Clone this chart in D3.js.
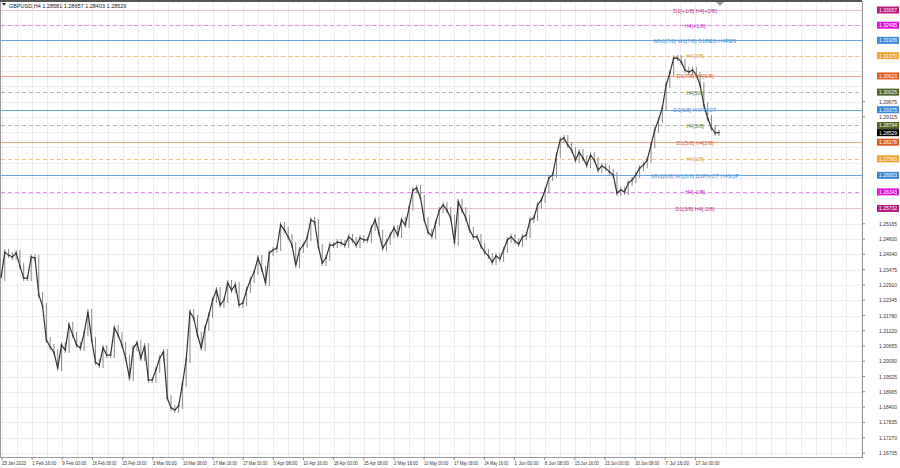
<!DOCTYPE html>
<html>
<head>
<meta charset="utf-8">
<script src="https://cdn.jsdelivr.net/npm/d3@7"></script>
<style>
  body { margin: 0; background: #fff; }
  svg { font-family: "Liberation Sans", sans-serif; }
</style>
</head>
<body>
<svg id="chart" width="900" height="468"></svg>
<script>
// GBPUSD H4 closes (oldest first)
const closes = [
  1.2316, 1.2412, 1.2401, 1.2394, 1.2409, 1.2361, 1.2316, 1.2316, 1.2394, 1.2390,
  1.2254, 1.2213, 1.2088, 1.2062, 1.2043, 1.1984, 1.2069, 1.2051, 1.2143, 1.2106,
  1.2069, 1.2058, 1.2113, 1.2191, 1.2088, 1.2006, 1.1995, 1.2058, 1.2032, 1.2032,
  1.2132, 1.2106, 1.2069, 1.2021, 1.1947, 1.2058, 1.2077, 1.2021, 1.2065, 1.1940,
  1.1940, 1.1977, 1.2021, 1.2043, 1.1874, 1.1837, 1.1829, 1.1844, 1.1925, 1.2014,
  1.2191, 1.2169, 1.2106, 1.2058, 1.2132, 1.2180, 1.2235, 1.2272, 1.2217, 1.2235,
  1.2298, 1.2272, 1.2291, 1.2217, 1.2224, 1.2272, 1.2309, 1.2339, 1.2390, 1.2350,
  1.2298, 1.2409, 1.2420, 1.2427, 1.2512, 1.2494, 1.2468, 1.2438, 1.2364, 1.2420,
  1.2438, 1.2464, 1.2531, 1.2523, 1.2431, 1.2372, 1.2390, 1.2438, 1.2438, 1.2449,
  1.2446, 1.2438, 1.2468, 1.2457, 1.2438, 1.2464, 1.2457, 1.2457, 1.2501, 1.2531,
  1.2483, 1.2427, 1.2449, 1.2475, 1.2501, 1.2475, 1.2531, 1.2512, 1.2575, 1.2641,
  1.2649, 1.2612, 1.2531, 1.2486, 1.2471, 1.2519, 1.2567, 1.2586, 1.2567, 1.2538,
  1.2446, 1.2597, 1.2567, 1.2538, 1.2494, 1.2468, 1.2468, 1.2435, 1.2412, 1.2398,
  1.2375, 1.2398, 1.2387, 1.2420, 1.2457, 1.2468, 1.2453, 1.2442, 1.2468, 1.2475,
  1.2531, 1.2538, 1.2586, 1.2604, 1.2641, 1.2686, 1.2697, 1.2770, 1.2826, 1.2833,
  1.2807, 1.2789, 1.2752, 1.2781, 1.2759, 1.2733, 1.2770, 1.2752, 1.2715, 1.2730,
  1.2722, 1.2708, 1.2697, 1.2630, 1.2641, 1.2634, 1.2667, 1.2678, 1.2697, 1.2722,
  1.2733, 1.2752, 1.2807, 1.2863, 1.2900, 1.2944, 1.3029, 1.3073, 1.3128, 1.3128,
  1.3114, 1.3084, 1.3077, 1.3084, 1.3066, 1.3029, 1.2955, 1.2907, 1.2870, 1.2852,
  1.2853
];

const timeLabels = ["25 Jan 2023", "1 Feb 16:00", "9 Feb 00:00", "16 Feb 08:00", "23 Feb 16:00",
  "3 Mar 00:00", "10 Mar 08:00", "17 Mar 16:00", "27 Mar 00:00", "3 Apr 08:00", "10 Apr 16:00",
  "18 Apr 00:00", "25 Apr 08:00", "2 May 16:00", "10 May 00:00", "17 May 08:00", "24 May 16:00",
  "1 Jun 00:00", "8 Jun 08:00", "15 Jun 16:00", "23 Jun 00:00", "30 Jun 08:00", "7 Jul 16:00",
  "17 Jul 00:00"];

const priceTicks = [1.16705, 1.17270, 1.17835, 1.18400, 1.18965, 1.19525, 1.20090, 1.20655,
  1.21220, 1.21780, 1.22345, 1.22910, 1.23475, 1.24040, 1.24600, 1.25165, 1.25730, 1.26295,
  1.26855, 1.27420, 1.27985, 1.28550, 1.29115, 1.29675, 1.30240, 1.30805, 1.31370, 1.31935,
  1.32500, 1.33060];

// Murrey-type levels: value, label, kind
const levelValues = [1.33057, 1.32495, 1.31936, 1.31370, 1.30623, 1.30025, 1.29375, 1.28794, 1.28178, 1.27563, 1.26953, 1.26343, 1.25732];
const levelNames = ["D1[+1/8] H4[+2/8]", "H4[+1/8]", "MN1[7/8] W1[7/8] D1RES H4RES", "H4[7/8]",
  "D1[7/8] H4[6/8]", "H4[5/8]", "D1[6/8] H4PIVOT", "H4[3/8]", "D1[5/8] H4[2/8]", "H4[1/8]",
  "MN1[6/8] W1[6/8] D1PIVOT H4SUP", "H4[-1/8]", "D1[3/8] H4[-2/8]"];
const levelKinds = ["purple", "magenta", "blue", "orange", "red", "olive", "blue", "olive", "red", "orange", "blue", "magenta", "purple"];
const lastPrice = 1.28529;

const styles = {
  purple:  { line: "#e6bfd9", box: "#b8187f", text: "#b0307f", dash: null },
  magenta: { line: "#ee88ee", box: "#e010e0", text: "#d020d0", dash: "4,3" },
  blue:    { line: "#6aa6e0", box: "#3a86d8", text: "#4a90d0", dash: null },
  orange:  { line: "#f2c27e", box: "#eea030", text: "#e0a040", dash: "4,3" },
  red:     { line: "#f0a580", box: "#e05a20", text: "#d06030", dash: null },
  olive:   { line: "#b8b8a8", box: "#4f6228", text: "#6b7a30", dash: "4,3" }
};

const svg = d3.select("#chart");
const plotRight = 862;

const y = d3.scaleLinear().domain([1.16705, 1.33057]).range([453, 10]);
const x = d3.scaleLinear().domain([0, closes.length - 1]).range([1, 719]);
const xt = d3.scalePoint().domain(timeLabels).range([2, 2 + 23 * 30.15]);

// grid
const grid = svg.append("g").attr("stroke", "#ececf2").attr("stroke-width", 1);
priceTicks.forEach(v => {
  grid.append("line").attr("x1", 1).attr("x2", plotRight)
    .attr("y1", Math.round(y(v)) + 0.5).attr("y2", Math.round(y(v)) + 0.5);
});
for (let gx = 2; gx < plotRight; gx += 15.075) {
  grid.append("line").attr("x1", Math.round(gx) + 0.5).attr("x2", Math.round(gx) + 0.5)
    .attr("y1", 3).attr("y2", 457);
}

// frame
svg.append("rect").attr("x", 0.5).attr("y", 1.5).attr("width", plotRight).attr("height", 456)
  .attr("fill", "none").attr("stroke", "#9a9a9a");
svg.append("line").attr("x1", 0).attr("x2", plotRight).attr("y1", 1).attr("y2", 1)
  .attr("stroke", "#555").attr("stroke-width", 2);
svg.append("path").attr("d", "M716,2 L724,2 L720,6 Z").attr("fill", "#999");

// levels
const lv = svg.append("g");
levelValues.forEach((v, i) => {
  const s = styles[levelKinds[i]];
  const yy = Math.round(y(v)) + 0.5;
  lv.append("line").attr("x1", 1).attr("x2", plotRight).attr("y1", yy).attr("y2", yy)
    .attr("stroke", s.line).attr("stroke-width", 1)
    .attr("stroke-dasharray", s.dash);
});

// candles (open = previous close)
const bars = svg.append("g");
closes.forEach((c, i) => {
  if (i === 0) return;
  const o = closes[i - 1];
  const hi = Math.max(o, c), lo = Math.min(o, c);
  bars.append("line").attr("x1", x(i)).attr("x2", x(i))
    .attr("y1", y(hi) - 3).attr("y2", y(lo) + 3)
    .attr("stroke", "#8a8a8a").attr("stroke-width", 1);
  bars.append("line").attr("x1", x(i) - 1).attr("x2", x(i) + 1)
    .attr("y1", y(c)).attr("y2", y(c))
    .attr("stroke", "#555").attr("stroke-width", 1);
});
svg.append("path").datum(closes)
  .attr("d", d3.line().x((d, i) => x(i)).y(d => y(d)))
  .attr("fill", "none").attr("stroke", "#333").attr("stroke-width", 1.2);

// level labels
levelValues.forEach((v, i) => {
  const s = styles[levelKinds[i]];
  svg.append("text").attr("x", 695).attr("y", y(v) + 2.5)
    .attr("text-anchor", "middle").attr("font-size", 5.5).attr("fill", s.text)
    .text(levelNames[i]);
});

// price axis
const boxYs = levelValues.map(v => y(v)).concat([y(lastPrice)]);
const ax = svg.append("g").attr("font-size", 5).attr("fill", "#333");
priceTicks.forEach(v => {
  const yy = y(v);
  if (boxYs.some(b => Math.abs(b - yy) < 6)) return;
  ax.append("line").attr("x1", plotRight).attr("x2", plotRight + 3)
    .attr("y1", yy).attr("y2", yy).attr("stroke", "#888");
  ax.append("text").attr("x", 879).attr("y", yy + 2).attr("textLength", 18)
    .attr("lengthAdjust", "spacingAndGlyphs").text(v.toFixed(5));
});
const boxes = levelValues.map((v, i) => [v, styles[levelKinds[i]].box]).concat([[lastPrice, "#000"]]);
boxes.forEach(([v, col]) => {
  const yy = y(v);
  svg.append("rect").attr("x", 877).attr("y", yy - 3.5).attr("width", 22).attr("height", 7).attr("fill", col);
  svg.append("text").attr("x", 879).attr("y", yy + 2).attr("font-size", 5).attr("fill", "#fff")
    .attr("textLength", 18).attr("lengthAdjust", "spacingAndGlyphs")
    .text(v.toFixed(5));
});

// time axis
const ta = svg.append("g").attr("font-size", 5).attr("fill", "#333");
timeLabels.forEach(t => {
  ta.append("line").attr("x1", xt(t)).attr("x2", xt(t)).attr("y1", 457).attr("y2", 460).attr("stroke", "#888");
  ta.append("text").attr("x", xt(t)).attr("y", 465).attr("textLength", 24)
    .attr("lengthAdjust", "spacingAndGlyphs").text(t);
});

// header
svg.append("path").attr("d", "M2,3 L6,3 L4,6 Z").attr("fill", "#333");
svg.append("text").attr("x", 9).attr("y", 8).attr("font-size", 5.5).attr("fill", "#222")
  .text("GBPUSD,H4  1.28581 1.28657 1.28403 1.28529");
</script>
</body>
</html>
